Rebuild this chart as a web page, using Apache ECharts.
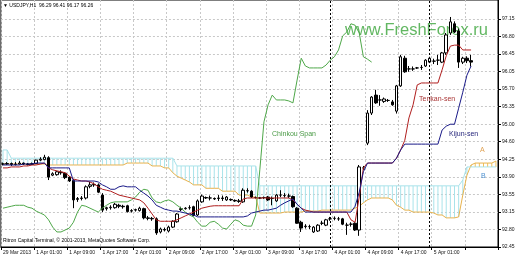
<!DOCTYPE html>
<html><head><meta charset="utf-8">
<script src="https://cdn.jsdelivr.net/npm/echarts@6/dist/echarts.min.js"></script>
<style>html,body{margin:0;padding:0;background:#fff}#c{width:520px;height:260px}</style>
</head><body><div id="c"></div>
<script>
// [open, high, low, close] for each H1 bar
const ohlc = [
[94.16,94.19,94.13,94.16],[94.16,94.20,94.14,94.17],[94.17,94.19,94.12,94.15],[94.15,94.20,94.13,94.16],[94.16,94.22,94.15,94.18],
[94.18,94.19,94.14,94.16],[94.16,94.18,94.13,94.15],[94.15,94.19,94.14,94.17],[94.17,94.25,94.16,94.24],[94.24,94.30,94.22,94.26],
[94.25,94.35,94.24,94.30],[94.29,94.32,93.83,93.89],[93.93,93.99,93.91,93.96],[93.94,94.02,93.92,94.00],[93.99,94.03,93.94,93.98],
[93.97,93.99,93.85,93.88],[93.89,93.91,93.79,93.81],[93.82,93.85,93.25,93.42],[93.43,93.48,93.38,93.45],[93.45,93.50,93.41,93.46],
[93.46,93.72,93.43,93.69],[93.70,93.79,93.66,93.73],[93.73,93.78,93.69,93.74],[93.73,93.76,93.56,93.58],[93.52,93.56,93.17,93.21],
[93.24,93.28,93.20,93.26],[93.26,93.31,93.22,93.27],[93.26,93.36,93.24,93.33],[93.31,93.34,93.25,93.29],[93.29,93.32,93.24,93.28],
[93.30,93.32,93.16,93.18],[93.19,93.23,93.16,93.20],[93.21,93.24,93.18,93.22],[93.20,93.28,93.18,93.25],[93.24,93.26,93.02,93.05],
[93.05,93.09,93.00,93.04],[93.04,93.07,92.99,93.03],[93.03,93.06,92.70,92.74],[92.76,92.85,92.73,92.82],[92.81,92.85,92.77,92.80],
[92.78,92.89,92.75,92.86],[92.86,93.00,92.84,92.98],[92.97,93.15,92.95,93.13],[93.22,93.28,93.19,93.24],[93.24,93.27,93.22,93.25],
[93.26,93.31,93.22,93.26],[93.28,93.30,93.08,93.10],[93.11,93.43,93.09,93.40],[93.38,93.53,93.36,93.50],[93.47,93.49,93.44,93.46],
[93.46,93.51,93.41,93.46],[93.45,93.47,93.42,93.44],[93.45,93.52,93.40,93.46],[93.46,93.51,93.40,93.45],[93.42,93.50,93.40,93.48],
[93.43,93.45,93.40,93.42],[93.41,93.43,93.38,93.40],[93.40,93.44,93.36,93.39],[93.38,93.66,93.36,93.62],[93.61,93.66,93.57,93.61],
[93.60,93.62,93.46,93.48],[93.47,93.49,93.45,93.47],[93.46,93.48,93.44,93.46],[93.47,93.49,93.44,93.47],[93.48,93.50,93.40,93.42],
[93.45,93.49,93.31,93.45],[93.40,93.54,93.38,93.52],[93.52,93.62,93.48,93.52],[93.51,93.56,93.47,93.51],[93.50,93.55,93.46,93.50],
[93.49,93.51,93.26,93.28],[93.25,93.27,92.93,92.94],[92.96,92.99,92.76,92.84],[92.87,92.92,92.83,92.88],[92.87,92.91,92.82,92.87],
[92.76,92.88,92.74,92.86],[92.78,92.92,92.76,92.90],[92.94,92.99,92.90,92.94],[92.90,93.03,92.88,93.01],[93.03,93.07,92.99,93.03],
[93.04,93.08,93.00,93.04],[93.03,93.07,92.99,93.03],[93.03,93.05,92.90,92.92],[92.90,92.95,92.70,92.90],[92.92,92.96,92.87,92.92],
[92.94,92.96,92.78,92.80],[92.80,94.14,92.68,94.10],[94.08,94.12,94.04,94.08],[94.59,95.27,94.55,95.21],[95.21,95.56,95.17,95.54],
[95.58,95.69,95.40,95.42],[95.48,95.58,95.36,95.48],[95.45,95.53,95.42,95.50],[95.47,95.50,95.44,95.47],[95.44,95.48,95.36,95.38],
[95.25,95.79,95.20,95.77],[95.77,96.41,95.75,96.37],[96.34,96.39,96.04,96.06],[96.12,96.18,96.06,96.12],[96.12,96.17,96.08,96.12],
[96.14,96.16,96.12,96.14],[96.15,96.20,96.10,96.15],[96.18,96.32,96.16,96.30],[96.26,96.37,96.24,96.34],[96.28,96.33,96.22,96.28],
[96.30,96.41,96.20,96.30],[96.26,96.47,96.24,96.45],[96.45,96.86,96.41,96.82],[96.86,97.19,96.82,97.09],[97.05,97.10,96.86,96.88],
[96.90,96.95,96.14,96.26],[96.26,96.37,96.22,96.34],[96.34,96.38,96.24,96.29],[96.29,96.41,96.17,96.26]
];
const tenkan = [
94.08,94.08,94.10,94.10,94.10,94.12,94.12,94.14,94.14,94.16,94.18,
94.08,94.04,94.02,94.00,93.98,93.91,93.85,93.83,93.81,93.81,
93.79,93.75,93.69,93.64,93.62,93.60,93.56,93.52,93.50,93.48,
93.46,93.44,93.42,93.36,93.25,93.13,93.01,92.98,92.98,92.98,
92.98,93.01,93.05,93.09,93.13,93.17,93.21,93.25,93.27,93.29,
93.30,93.30,93.30,93.30,93.30,93.30,93.30,93.44,
93.46,93.46,93.46,93.46,93.46,93.46,93.46,93.46,93.46,93.46,93.46,
93.42,93.33,93.25,93.21,93.19,
93.17,93.17,93.17,93.17,93.17,93.17,93.17,93.17,93.17,
93.01,92.96,93.48,94.08,
94.18,94.18,94.18,94.18,94.18,94.18,94.18,
94.28,94.45,94.65,95.11,95.38,95.79,
95.83,95.83,95.83,95.83,95.83,
96.10,96.39,96.59,96.61,96.61,96.51,96.51,96.51
];
const kijun = [
94.14,94.14,94.14,94.14,94.14,94.16,94.16,94.16,94.18,94.18,94.18,
94.08,94.08,94.08,94.08,94.08,94.08,
93.81,93.81,93.81,93.81,93.81,93.81,
93.79,93.73,93.69,93.64,93.64,93.69,93.71,93.69,93.69,93.69,
93.62,93.56,93.50,93.42,93.31,93.27,93.23,93.21,93.19,93.19,93.17,93.15,93.13,93.11,
93.07,93.07,93.07,93.07,93.07,93.07,93.07,93.07,93.07,93.07,93.07,93.07,
93.09,93.15,93.17,93.19,93.21,93.21,93.23,93.25,93.31,93.36,93.40,93.44,93.33,93.25,
93.17,93.17,93.17,93.17,93.17,93.17,93.17,93.17,93.17,93.17,93.17,93.17,
93.29,93.58,94.00,
94.18,94.18,94.18,94.18,94.18,94.18,94.18,
94.28,94.45,
94.57,94.57,94.57,94.57,94.57,94.57,94.57,94.57,94.57,
94.86,94.94,94.98,94.98,95.31,95.64,95.99,96.18
];
const chinkou = [
93.25,93.27,93.29,93.31,93.31,93.31,93.27,93.25,93.19,93.15,
93.11,93.01,92.86,92.76,92.76,92.80,92.84,92.96,93.17,93.31,
93.29,93.25,93.21,93.17,93.25,93.31,93.36,93.38,93.38,93.38,
93.38,93.42,93.48,93.58,93.64,93.62,93.46,93.38,93.36,93.40,
93.42,93.38,93.31,93.25,93.17,93.11,93.07,92.96,92.88,92.88,
92.96,92.98,92.92,92.84,92.82,92.92,93.01,92.98,92.90,92.88,
92.88,93.11,94.04,95.03,95.38,95.58,95.48,95.48,95.48,95.46,
95.42,95.89,96.34,96.18,96.14,96.14,96.14,96.14,96.20,96.30,
96.37,96.51,96.80,96.88,97.05,97.02,96.86,96.37,96.32,96.26
];
const senkouA = [
94.16,94.16,94.16,94.16,94.16,94.16,94.16,94.16,94.16,94.16,94.16,
94.14,94.14,94.14,94.14,94.14,94.14,94.14,94.14,94.14,94.14,94.14,94.14,94.14,94.14,94.14,94.14,94.14,94.14,94.14,
94.18,94.18,94.18,94.18,94.18,94.18,
94.12,94.12,94.12,94.08,94.08,
93.98,93.91,93.87,93.83,93.79,93.73,93.73,93.73,
93.66,93.66,93.66,93.66,93.60,93.60,93.60,93.60,93.52,93.52,93.52,93.48,93.48,
93.15,93.15,93.15,93.15,93.15,93.15,93.17,93.17,93.17,93.17,93.17,
93.19,93.19,93.19,93.19,93.21,93.21,93.21,93.21,93.21,93.21,93.21,93.21,
93.25,93.29,93.36,93.42,93.46,93.46,93.46,93.46,93.46,
93.42,93.31,93.27,93.21,93.21,93.17,93.17,93.17,93.17,93.17,
93.15,93.11,93.11,93.05,93.05,93.05,93.07,93.52,93.93,94.14,
94.18,94.18,94.18,94.18,94.18,94.22
];
const senkouB = [
94.45,94.45,
94.28,94.28,94.28,94.28,94.28,94.28,94.28,94.28,94.28,94.28,94.28,94.28,94.28,94.28,94.28,94.28,94.28,94.28,94.28,94.28,
94.28,94.28,94.28,94.28,94.28,94.28,94.28,94.28,94.28,94.28,94.28,94.28,94.28,94.28,94.28,94.28,94.28,94.28,94.28,94.28,
94.12,94.12,94.12,94.12,94.12,94.12,94.12,94.12,94.12,94.12,94.12,94.12,94.12,94.12,94.12,94.12,94.12,94.12,94.12,94.12,
93.71,93.71,93.71,93.71,93.71,93.71,93.71,93.71,93.71,93.71,93.71,93.71,93.71,93.71,93.71,93.71,93.71,93.71,93.71,93.71,
93.71,93.71,93.71,93.71,93.71,93.71,93.71,93.71,93.71,93.71,93.71,93.71,93.71,93.71,93.71,93.71,93.71,93.71,93.71,93.71,
93.71,93.71,93.71,93.71,93.71,93.71,93.71,93.71,93.71,
93.83,94.10,94.10,94.10,94.10,94.10,94.10,94.10,94.10
];
const yTickLabels = ['92.45','92.80','93.15','93.55','93.90','94.25','94.60','95.00','95.35','95.70','96.05','96.45','96.80','97.15'];
const lastPrice = 96.26;
const titleText = '\u25BC USDJPY,H1  96.29 96.41 96.17 96.26';
const totalBars = 120;
const separatorBars = [79, 103];

const MONTHS = ['Jan','Feb','Mar','Apr','May','Jun','Jul','Aug','Sep','Oct','Nov','Dec'];
const categories = [];
let t = Date.UTC(2013, 2, 29, 17);
while (categories.length < totalBars) {
  const d = new Date(t);
  const dow = d.getUTCDay();
  if (dow !== 0 && dow !== 6) {
    const hh = String(d.getUTCHours()).padStart(2, '0');
    categories.push(categories.length === 0
      ? d.getUTCDate() + ' ' + MONTHS[d.getUTCMonth()] + ' ' + d.getUTCFullYear()
      : d.getUTCDate() + ' ' + MONTHS[d.getUTCMonth()] + ' ' + hh + ':00');
  }
  t += 3600000;
}

const yLo = parseFloat(yTickLabels[0]);
const yHi = parseFloat(yTickLabels[yTickLabels.length - 1]);
const yStep = (yHi - yLo) / (yTickLabels.length - 1);
const yTickValues = yTickLabels.map((_, i) => yLo + i * yStep);

const kumoBase = senkouA.map((a, i) => Math.min(a, senkouB[i]));
const kumoDown = senkouA.map((a, i) => senkouB[i] > a ? senkouB[i] - a : 0);
const kumoUp = senkouA.map((a, i) => a > senkouB[i] ? a - senkouB[i] : 0);
const candleData = ohlc.map(([o, h, l, c]) => [o, c, l, h]);

const FONT = 'Liberation Sans, Arial, sans-serif';
const chart = echarts.init(document.getElementById('c'), null, {renderer: 'canvas'});
chart.setOption({
  animation: false,
  backgroundColor: '#ffffff',
  grid: {left: 0, right: 22, top: 0, bottom: 13, show: true, borderColor: '#000', borderWidth: 1, backgroundColor: '#fff'},
  xAxis: {
    type: 'category', data: categories, boundaryGap: true,
    axisLine: {show: true, lineStyle: {color: '#000', width: 1}},
    axisTick: {show: true, interval: 7, length: 3, lineStyle: {color: '#000'}},
    axisLabel: {interval: 7, fontSize: 5, color: '#111', fontFamily: FONT, align: 'left', margin: 3, showMaxLabel: false},
    splitLine: {show: true, interval: 7, lineStyle: {color: '#c8c8c8', type: [2, 2], width: 1}}
  },
  yAxis: {
    type: 'value', position: 'right', min: yLo, max: 97.54, scale: true,
    axisLine: {show: true, lineStyle: {color: '#000', width: 1}},
    axisTick: {show: true, length: 3, customValues: yTickValues, lineStyle: {color: '#000'}},
    axisLabel: {customValues: yTickValues, fontSize: 5, color: '#111', fontFamily: FONT, margin: 4,
      formatter: v => yTickLabels[Math.round((v - yLo) / yStep)]},
    splitLine: {show: true, lineStyle: {color: '#c8c8c8', type: [2, 2], width: 1}}
  },
  series: [
    {name: 'kumoBase', type: 'bar', stack: 'kumo', data: kumoBase, barWidth: 1, itemStyle: {color: 'rgba(0,0,0,0)'}, silent: true, z: 2},
    {name: 'kumoDown', type: 'bar', stack: 'kumo', data: kumoDown, barWidth: 1, itemStyle: {color: '#a9e3ea'}, silent: true, z: 2},
    {name: 'kumoUp', type: 'bar', stack: 'kumo', data: kumoUp, barWidth: 1, itemStyle: {color: '#f0c15c'}, silent: true, z: 2},
    {name: 'Senkou A', type: 'line', data: senkouA, symbol: 'none', lineStyle: {color: '#e8b24c', width: 1}, z: 3},
    {name: 'Senkou B', type: 'line', data: senkouB, symbol: 'none', lineStyle: {color: '#a9e3ea', width: 1}, z: 3},
    {name: 'USDJPY', type: 'candlestick', data: candleData, barWidth: 3, z: 4,
      itemStyle: {color: '#ffffff', color0: '#000000', borderColor: '#000000', borderColor0: '#000000', borderWidth: 1},
      markLine: {
        symbol: 'none', silent: true, animation: false,
        data: [
          ...separatorBars.map(i => ({xAxis: categories[i], lineStyle: {color: '#000', type: [2, 2], width: 1}, label: {show: false}})),
          {yAxis: lastPrice, lineStyle: {opacity: 0},
            label: {show: true, position: 'end', distance: 1, formatter: lastPrice.toFixed(2), color: '#fff', backgroundColor: '#0c0c2c', fontSize: 5, fontFamily: FONT, padding: [2, 2, 1, 2]}}
        ]
      }
    },
    {name: 'Chinkou Span', type: 'line', data: chinkou, symbol: 'none', lineStyle: {color: '#4fa84a', width: 1}, z: 5},
    {name: 'Tenkan-sen', type: 'line', data: tenkan, symbol: 'none', lineStyle: {color: '#b01e1e', width: 1}, z: 6},
    {name: 'Kijun-sen', type: 'line', data: kijun, symbol: 'none', lineStyle: {color: '#1a1a88', width: 1}, z: 6}
  ],
  graphic: [
    {type: 'text', left: 345, top: 22, z: 1, style: {text: 'www.FreshForex.ru', fontSize: 16.5, fontFamily: FONT, fill: 'rgba(70,170,70,0.85)'}},
    {type: 'text', left: 3, top: 3, z: 10, style: {text: titleText, fontSize: 5, fontFamily: FONT, fill: '#000'}},
    {type: 'text', left: 3, top: 238, z: 10, style: {text: 'Ritron Capital Terminal, \u00A9 2001-2013, MetaQuotes Software Corp.', fontSize: 5, fontFamily: FONT, fill: '#000'}},
    {type: 'text', left: 272, top: 131, z: 10, style: {text: 'Chinkou Span', fontSize: 7, fontFamily: FONT, fill: '#4a9a46'}},
    {type: 'text', left: 419, top: 96, z: 10, style: {text: 'Tenkan-sen', fontSize: 7, fontFamily: FONT, fill: '#a83434'}},
    {type: 'text', left: 449, top: 131, z: 10, style: {text: 'Kijun-sen', fontSize: 7, fontFamily: FONT, fill: '#24247a'}},
    {type: 'text', left: 480, top: 147, z: 10, style: {text: 'A', fontSize: 7, fontFamily: FONT, fill: '#e0a050'}},
    {type: 'text', left: 481, top: 173, z: 10, style: {text: 'B', fontSize: 7, fontFamily: FONT, fill: '#4a8fd0'}}
  ]
});
</script>
</body></html>
